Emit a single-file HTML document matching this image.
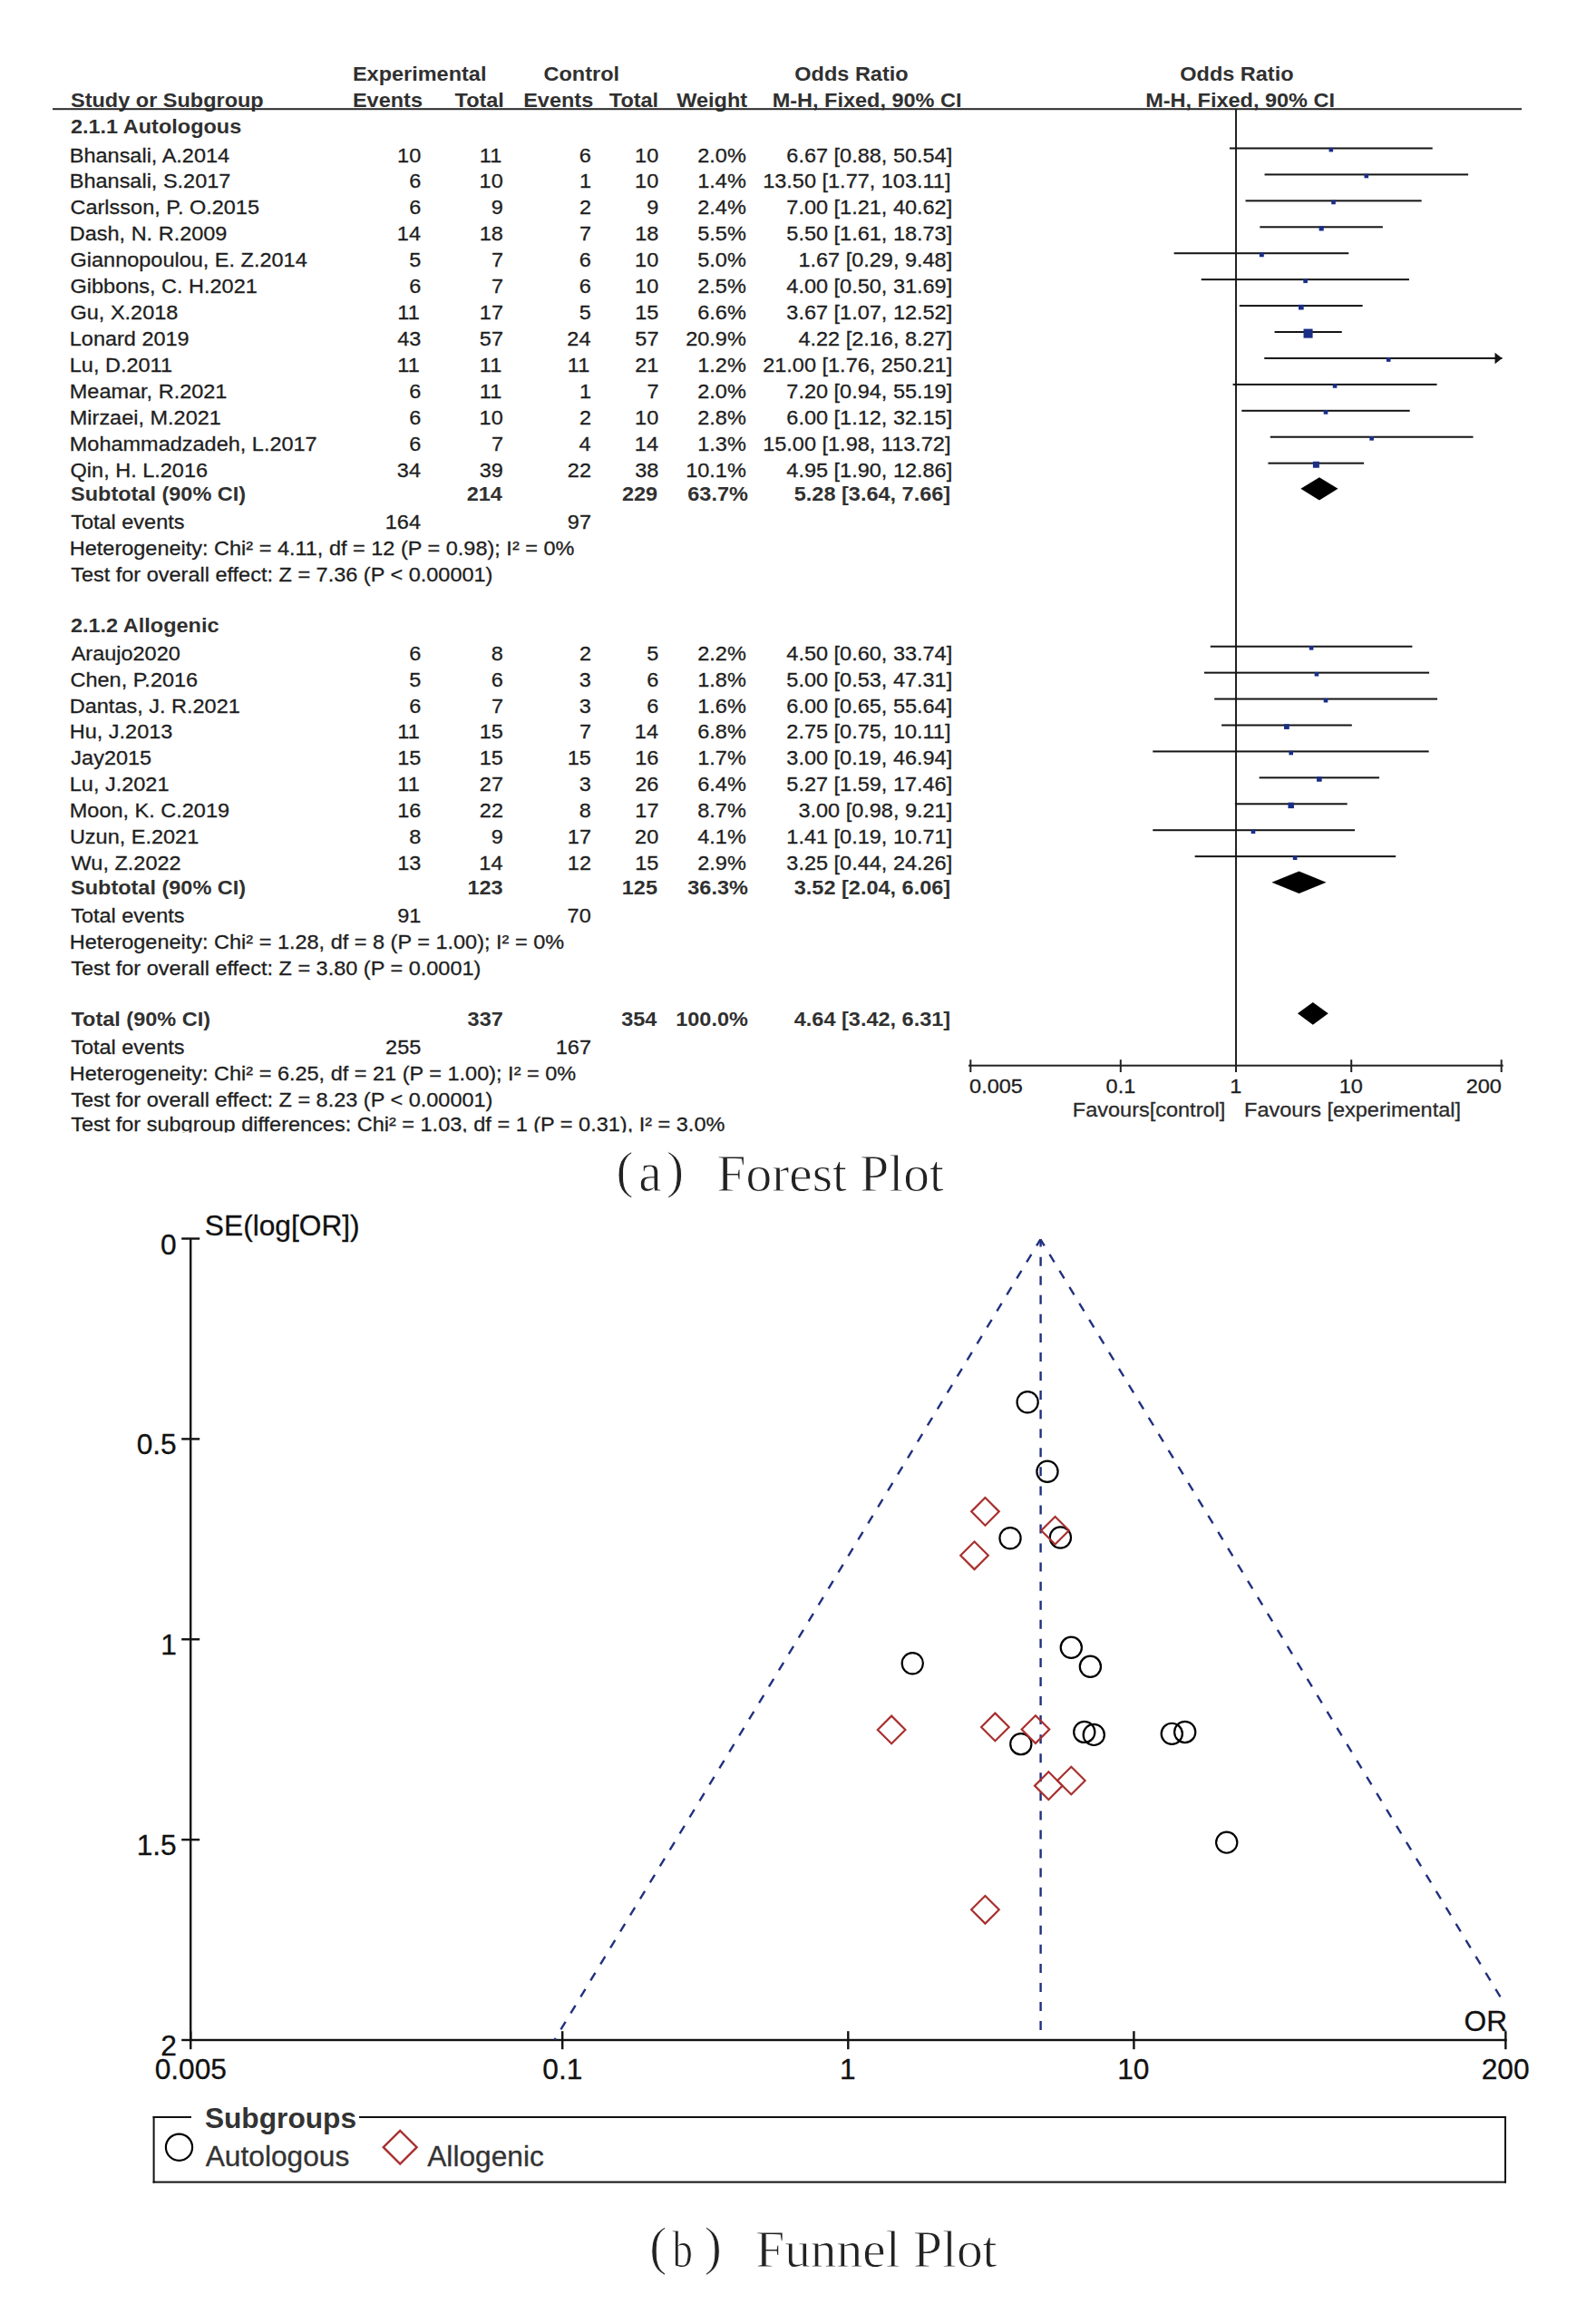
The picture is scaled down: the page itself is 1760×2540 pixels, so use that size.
<!DOCTYPE html>
<html><head><meta charset="utf-8"><title>Forest and Funnel Plot</title>
<style>
html,body{margin:0;padding:0;background:#fff;}
body{width:1760px;height:2540px;overflow:hidden;position:relative;font-family:"Liberation Sans",sans-serif;}
svg{position:absolute;left:0;top:0;display:block;}
</style></head>
<body>
<svg width="1760" height="2540" viewBox="0 0 1760 2540">
<defs><clipPath id="clipA"><rect x="0" y="1225" width="1100" height="23.6"/></clipPath></defs>
<rect x="0" y="0" width="1760" height="2540" fill="#fff"/>
<text transform="matrix(1.0 0 0 0.925 388.93 88.90)" font-family="Liberation Sans" font-size="23.5" font-weight="bold" fill="#303030">Experimental</text>
<text transform="matrix(1.0 0 0 0.925 599.54 88.90)" font-family="Liberation Sans" font-size="23.5" font-weight="bold" fill="#303030">Control</text>
<text transform="matrix(1.0 0 0 0.925 876.34 88.90)" font-family="Liberation Sans" font-size="23.5" font-weight="bold" fill="#303030">Odds Ratio</text>
<text transform="matrix(1.0 0 0 0.925 1301.26 88.90)" font-family="Liberation Sans" font-size="23.5" font-weight="bold" fill="#303030">Odds Ratio</text>
<text transform="matrix(1.0 0 0 0.925 78.02 117.80)" font-family="Liberation Sans" font-size="23.5" font-weight="bold" fill="#303030">Study or Subgroup</text>
<text transform="matrix(1.0 0 0 0.925 388.93 117.80)" font-family="Liberation Sans" font-size="23.5" font-weight="bold" fill="#303030">Events</text>
<text transform="matrix(1.0 0 0 0.925 501.53 117.80)" font-family="Liberation Sans" font-size="23.5" font-weight="bold" fill="#303030">Total</text>
<text transform="matrix(1.0 0 0 0.925 577.18 117.80)" font-family="Liberation Sans" font-size="23.5" font-weight="bold" fill="#303030">Events</text>
<text transform="matrix(1.0 0 0 0.925 671.78 117.80)" font-family="Liberation Sans" font-size="23.5" font-weight="bold" fill="#303030">Total</text>
<text transform="matrix(1.0 0 0 0.925 746.23 117.80)" font-family="Liberation Sans" font-size="23.5" font-weight="bold" fill="#303030">Weight</text>
<text transform="matrix(1.0 0 0 0.925 851.63 117.80)" font-family="Liberation Sans" font-size="23.5" font-weight="bold" fill="#303030">M-H, Fixed, 90% CI</text>
<text transform="matrix(1.0 0 0 0.925 1263.19 117.80)" font-family="Liberation Sans" font-size="23.5" font-weight="bold" fill="#303030">M-H, Fixed, 90% CI</text>
<rect x="58.00" y="119.20" width="1620.00" height="2.00" fill="#2a2a2a"/>
<text transform="matrix(1.0 0 0 0.925 77.89 147.20)" font-family="Liberation Sans" font-size="23.5" font-weight="bold" fill="#303030">2.1.1 Autologous</text>
<text transform="matrix(1.0 0 0 0.925 76.77 178.50)" font-family="Liberation Sans" font-size="23.5" fill="#1e1e1e" stroke="#1e1e1e" stroke-width="0.3">Bhansali, A.2014</text>
<text transform="matrix(1.0 0 0 0.925 438.08 178.50)" font-family="Liberation Sans" font-size="23.5" fill="#1e1e1e" stroke="#1e1e1e" stroke-width="0.3">10</text>
<text transform="matrix(1.0 0 0 0.925 528.81 178.50)" font-family="Liberation Sans" font-size="23.5" fill="#1e1e1e" stroke="#1e1e1e" stroke-width="0.3">11</text>
<text transform="matrix(1.0 0 0 0.925 638.76 178.50)" font-family="Liberation Sans" font-size="23.5" fill="#1e1e1e" stroke="#1e1e1e" stroke-width="0.3">6</text>
<text transform="matrix(1.0 0 0 0.925 700.08 178.50)" font-family="Liberation Sans" font-size="23.5" fill="#1e1e1e" stroke="#1e1e1e" stroke-width="0.3">10</text>
<text transform="matrix(1.0 0 0 0.925 769.27 178.50)" font-family="Liberation Sans" font-size="23.5" fill="#1e1e1e" stroke="#1e1e1e" stroke-width="0.3">2.0%</text>
<text transform="matrix(1.0 0 0 0.925 867.35 178.50)" font-family="Liberation Sans" font-size="23.5" fill="#1e1e1e" stroke="#1e1e1e" stroke-width="0.3">6.67 [0.88, 50.54]</text>
<text transform="matrix(1.0 0 0 0.925 76.77 207.43)" font-family="Liberation Sans" font-size="23.5" fill="#1e1e1e" stroke="#1e1e1e" stroke-width="0.3">Bhansali, S.2017</text>
<text transform="matrix(1.0 0 0 0.925 451.26 207.43)" font-family="Liberation Sans" font-size="23.5" fill="#1e1e1e" stroke="#1e1e1e" stroke-width="0.3">6</text>
<text transform="matrix(1.0 0 0 0.925 528.58 207.43)" font-family="Liberation Sans" font-size="23.5" fill="#1e1e1e" stroke="#1e1e1e" stroke-width="0.3">10</text>
<text transform="matrix(1.0 0 0 0.925 638.88 207.43)" font-family="Liberation Sans" font-size="23.5" fill="#1e1e1e" stroke="#1e1e1e" stroke-width="0.3">1</text>
<text transform="matrix(1.0 0 0 0.925 700.08 207.43)" font-family="Liberation Sans" font-size="23.5" fill="#1e1e1e" stroke="#1e1e1e" stroke-width="0.3">10</text>
<text transform="matrix(1.0 0 0 0.925 769.27 207.43)" font-family="Liberation Sans" font-size="23.5" fill="#1e1e1e" stroke="#1e1e1e" stroke-width="0.3">1.4%</text>
<text transform="matrix(1.0 0 0 0.925 841.21 207.43)" font-family="Liberation Sans" font-size="23.5" fill="#1e1e1e" stroke="#1e1e1e" stroke-width="0.3">13.50 [1.77, 103.11]</text>
<text transform="matrix(1.0 0 0 0.925 77.51 236.36)" font-family="Liberation Sans" font-size="23.5" fill="#1e1e1e" stroke="#1e1e1e" stroke-width="0.3">Carlsson, P. O.2015</text>
<text transform="matrix(1.0 0 0 0.925 451.26 236.36)" font-family="Liberation Sans" font-size="23.5" fill="#1e1e1e" stroke="#1e1e1e" stroke-width="0.3">6</text>
<text transform="matrix(1.0 0 0 0.925 541.84 236.36)" font-family="Liberation Sans" font-size="23.5" fill="#1e1e1e" stroke="#1e1e1e" stroke-width="0.3">9</text>
<text transform="matrix(1.0 0 0 0.925 638.91 236.36)" font-family="Liberation Sans" font-size="23.5" fill="#1e1e1e" stroke="#1e1e1e" stroke-width="0.3">2</text>
<text transform="matrix(1.0 0 0 0.925 713.34 236.36)" font-family="Liberation Sans" font-size="23.5" fill="#1e1e1e" stroke="#1e1e1e" stroke-width="0.3">9</text>
<text transform="matrix(1.0 0 0 0.925 769.27 236.36)" font-family="Liberation Sans" font-size="23.5" fill="#1e1e1e" stroke="#1e1e1e" stroke-width="0.3">2.4%</text>
<text transform="matrix(1.0 0 0 0.925 867.35 236.36)" font-family="Liberation Sans" font-size="23.5" fill="#1e1e1e" stroke="#1e1e1e" stroke-width="0.3">7.00 [1.21, 40.62]</text>
<text transform="matrix(1.0 0 0 0.925 76.77 265.29)" font-family="Liberation Sans" font-size="23.5" fill="#1e1e1e" stroke="#1e1e1e" stroke-width="0.3">Dash, N. R.2009</text>
<text transform="matrix(1.0 0 0 0.925 437.85 265.29)" font-family="Liberation Sans" font-size="23.5" fill="#1e1e1e" stroke="#1e1e1e" stroke-width="0.3">14</text>
<text transform="matrix(1.0 0 0 0.925 528.68 265.29)" font-family="Liberation Sans" font-size="23.5" fill="#1e1e1e" stroke="#1e1e1e" stroke-width="0.3">18</text>
<text transform="matrix(1.0 0 0 0.925 638.91 265.29)" font-family="Liberation Sans" font-size="23.5" fill="#1e1e1e" stroke="#1e1e1e" stroke-width="0.3">7</text>
<text transform="matrix(1.0 0 0 0.925 700.18 265.29)" font-family="Liberation Sans" font-size="23.5" fill="#1e1e1e" stroke="#1e1e1e" stroke-width="0.3">18</text>
<text transform="matrix(1.0 0 0 0.925 769.27 265.29)" font-family="Liberation Sans" font-size="23.5" fill="#1e1e1e" stroke="#1e1e1e" stroke-width="0.3">5.5%</text>
<text transform="matrix(1.0 0 0 0.925 867.35 265.29)" font-family="Liberation Sans" font-size="23.5" fill="#1e1e1e" stroke="#1e1e1e" stroke-width="0.3">5.50 [1.61, 18.73]</text>
<text transform="matrix(1.0 0 0 0.925 77.52 294.22)" font-family="Liberation Sans" font-size="23.5" fill="#1e1e1e" stroke="#1e1e1e" stroke-width="0.3">Giannopoulou, E. Z.2014</text>
<text transform="matrix(1.0 0 0 0.925 451.22 294.22)" font-family="Liberation Sans" font-size="23.5" fill="#1e1e1e" stroke="#1e1e1e" stroke-width="0.3">5</text>
<text transform="matrix(1.0 0 0 0.925 541.91 294.22)" font-family="Liberation Sans" font-size="23.5" fill="#1e1e1e" stroke="#1e1e1e" stroke-width="0.3">7</text>
<text transform="matrix(1.0 0 0 0.925 638.76 294.22)" font-family="Liberation Sans" font-size="23.5" fill="#1e1e1e" stroke="#1e1e1e" stroke-width="0.3">6</text>
<text transform="matrix(1.0 0 0 0.925 700.08 294.22)" font-family="Liberation Sans" font-size="23.5" fill="#1e1e1e" stroke="#1e1e1e" stroke-width="0.3">10</text>
<text transform="matrix(1.0 0 0 0.925 769.27 294.22)" font-family="Liberation Sans" font-size="23.5" fill="#1e1e1e" stroke="#1e1e1e" stroke-width="0.3">5.0%</text>
<text transform="matrix(1.0 0 0 0.925 880.42 294.22)" font-family="Liberation Sans" font-size="23.5" fill="#1e1e1e" stroke="#1e1e1e" stroke-width="0.3">1.67 [0.29, 9.48]</text>
<text transform="matrix(1.0 0 0 0.925 77.52 323.15)" font-family="Liberation Sans" font-size="23.5" fill="#1e1e1e" stroke="#1e1e1e" stroke-width="0.3">Gibbons, C. H.2021</text>
<text transform="matrix(1.0 0 0 0.925 451.26 323.15)" font-family="Liberation Sans" font-size="23.5" fill="#1e1e1e" stroke="#1e1e1e" stroke-width="0.3">6</text>
<text transform="matrix(1.0 0 0 0.925 541.91 323.15)" font-family="Liberation Sans" font-size="23.5" fill="#1e1e1e" stroke="#1e1e1e" stroke-width="0.3">7</text>
<text transform="matrix(1.0 0 0 0.925 638.76 323.15)" font-family="Liberation Sans" font-size="23.5" fill="#1e1e1e" stroke="#1e1e1e" stroke-width="0.3">6</text>
<text transform="matrix(1.0 0 0 0.925 700.08 323.15)" font-family="Liberation Sans" font-size="23.5" fill="#1e1e1e" stroke="#1e1e1e" stroke-width="0.3">10</text>
<text transform="matrix(1.0 0 0 0.925 769.27 323.15)" font-family="Liberation Sans" font-size="23.5" fill="#1e1e1e" stroke="#1e1e1e" stroke-width="0.3">2.5%</text>
<text transform="matrix(1.0 0 0 0.925 867.35 323.15)" font-family="Liberation Sans" font-size="23.5" fill="#1e1e1e" stroke="#1e1e1e" stroke-width="0.3">4.00 [0.50, 31.69]</text>
<text transform="matrix(1.0 0 0 0.925 77.52 352.08)" font-family="Liberation Sans" font-size="23.5" fill="#1e1e1e" stroke="#1e1e1e" stroke-width="0.3">Gu, X.2018</text>
<text transform="matrix(1.0 0 0 0.925 438.31 352.08)" font-family="Liberation Sans" font-size="23.5" fill="#1e1e1e" stroke="#1e1e1e" stroke-width="0.3">11</text>
<text transform="matrix(1.0 0 0 0.925 528.84 352.08)" font-family="Liberation Sans" font-size="23.5" fill="#1e1e1e" stroke="#1e1e1e" stroke-width="0.3">17</text>
<text transform="matrix(1.0 0 0 0.925 638.72 352.08)" font-family="Liberation Sans" font-size="23.5" fill="#1e1e1e" stroke="#1e1e1e" stroke-width="0.3">5</text>
<text transform="matrix(1.0 0 0 0.925 700.15 352.08)" font-family="Liberation Sans" font-size="23.5" fill="#1e1e1e" stroke="#1e1e1e" stroke-width="0.3">15</text>
<text transform="matrix(1.0 0 0 0.925 769.27 352.08)" font-family="Liberation Sans" font-size="23.5" fill="#1e1e1e" stroke="#1e1e1e" stroke-width="0.3">6.6%</text>
<text transform="matrix(1.0 0 0 0.925 867.35 352.08)" font-family="Liberation Sans" font-size="23.5" fill="#1e1e1e" stroke="#1e1e1e" stroke-width="0.3">3.67 [1.07, 12.52]</text>
<text transform="matrix(1.0 0 0 0.925 76.77 381.01)" font-family="Liberation Sans" font-size="23.5" fill="#1e1e1e" stroke="#1e1e1e" stroke-width="0.3">Lonard 2019</text>
<text transform="matrix(1.0 0 0 0.925 438.19 381.01)" font-family="Liberation Sans" font-size="23.5" fill="#1e1e1e" stroke="#1e1e1e" stroke-width="0.3">43</text>
<text transform="matrix(1.0 0 0 0.925 528.84 381.01)" font-family="Liberation Sans" font-size="23.5" fill="#1e1e1e" stroke="#1e1e1e" stroke-width="0.3">57</text>
<text transform="matrix(1.0 0 0 0.925 625.35 381.01)" font-family="Liberation Sans" font-size="23.5" fill="#1e1e1e" stroke="#1e1e1e" stroke-width="0.3">24</text>
<text transform="matrix(1.0 0 0 0.925 700.34 381.01)" font-family="Liberation Sans" font-size="23.5" fill="#1e1e1e" stroke="#1e1e1e" stroke-width="0.3">57</text>
<text transform="matrix(1.0 0 0 0.925 756.20 381.01)" font-family="Liberation Sans" font-size="23.5" fill="#1e1e1e" stroke="#1e1e1e" stroke-width="0.3">20.9%</text>
<text transform="matrix(1.0 0 0 0.925 880.42 381.01)" font-family="Liberation Sans" font-size="23.5" fill="#1e1e1e" stroke="#1e1e1e" stroke-width="0.3">4.22 [2.16, 8.27]</text>
<text transform="matrix(1.0 0 0 0.925 76.77 409.94)" font-family="Liberation Sans" font-size="23.5" fill="#1e1e1e" stroke="#1e1e1e" stroke-width="0.3">Lu, D.2011</text>
<text transform="matrix(1.0 0 0 0.925 438.31 409.94)" font-family="Liberation Sans" font-size="23.5" fill="#1e1e1e" stroke="#1e1e1e" stroke-width="0.3">11</text>
<text transform="matrix(1.0 0 0 0.925 528.81 409.94)" font-family="Liberation Sans" font-size="23.5" fill="#1e1e1e" stroke="#1e1e1e" stroke-width="0.3">11</text>
<text transform="matrix(1.0 0 0 0.925 625.81 409.94)" font-family="Liberation Sans" font-size="23.5" fill="#1e1e1e" stroke="#1e1e1e" stroke-width="0.3">11</text>
<text transform="matrix(1.0 0 0 0.925 700.31 409.94)" font-family="Liberation Sans" font-size="23.5" fill="#1e1e1e" stroke="#1e1e1e" stroke-width="0.3">21</text>
<text transform="matrix(1.0 0 0 0.925 769.27 409.94)" font-family="Liberation Sans" font-size="23.5" fill="#1e1e1e" stroke="#1e1e1e" stroke-width="0.3">1.2%</text>
<text transform="matrix(1.0 0 0 0.925 841.21 409.94)" font-family="Liberation Sans" font-size="23.5" fill="#1e1e1e" stroke="#1e1e1e" stroke-width="0.3">21.00 [1.76, 250.21]</text>
<text transform="matrix(1.0 0 0 0.925 76.77 438.87)" font-family="Liberation Sans" font-size="23.5" fill="#1e1e1e" stroke="#1e1e1e" stroke-width="0.3">Meamar, R.2021</text>
<text transform="matrix(1.0 0 0 0.925 451.26 438.87)" font-family="Liberation Sans" font-size="23.5" fill="#1e1e1e" stroke="#1e1e1e" stroke-width="0.3">6</text>
<text transform="matrix(1.0 0 0 0.925 528.81 438.87)" font-family="Liberation Sans" font-size="23.5" fill="#1e1e1e" stroke="#1e1e1e" stroke-width="0.3">11</text>
<text transform="matrix(1.0 0 0 0.925 638.88 438.87)" font-family="Liberation Sans" font-size="23.5" fill="#1e1e1e" stroke="#1e1e1e" stroke-width="0.3">1</text>
<text transform="matrix(1.0 0 0 0.925 713.41 438.87)" font-family="Liberation Sans" font-size="23.5" fill="#1e1e1e" stroke="#1e1e1e" stroke-width="0.3">7</text>
<text transform="matrix(1.0 0 0 0.925 769.27 438.87)" font-family="Liberation Sans" font-size="23.5" fill="#1e1e1e" stroke="#1e1e1e" stroke-width="0.3">2.0%</text>
<text transform="matrix(1.0 0 0 0.925 867.35 438.87)" font-family="Liberation Sans" font-size="23.5" fill="#1e1e1e" stroke="#1e1e1e" stroke-width="0.3">7.20 [0.94, 55.19]</text>
<text transform="matrix(1.0 0 0 0.925 76.77 467.80)" font-family="Liberation Sans" font-size="23.5" fill="#1e1e1e" stroke="#1e1e1e" stroke-width="0.3">Mirzaei, M.2021</text>
<text transform="matrix(1.0 0 0 0.925 451.26 467.80)" font-family="Liberation Sans" font-size="23.5" fill="#1e1e1e" stroke="#1e1e1e" stroke-width="0.3">6</text>
<text transform="matrix(1.0 0 0 0.925 528.58 467.80)" font-family="Liberation Sans" font-size="23.5" fill="#1e1e1e" stroke="#1e1e1e" stroke-width="0.3">10</text>
<text transform="matrix(1.0 0 0 0.925 638.91 467.80)" font-family="Liberation Sans" font-size="23.5" fill="#1e1e1e" stroke="#1e1e1e" stroke-width="0.3">2</text>
<text transform="matrix(1.0 0 0 0.925 700.08 467.80)" font-family="Liberation Sans" font-size="23.5" fill="#1e1e1e" stroke="#1e1e1e" stroke-width="0.3">10</text>
<text transform="matrix(1.0 0 0 0.925 769.27 467.80)" font-family="Liberation Sans" font-size="23.5" fill="#1e1e1e" stroke="#1e1e1e" stroke-width="0.3">2.8%</text>
<text transform="matrix(1.0 0 0 0.925 867.35 467.80)" font-family="Liberation Sans" font-size="23.5" fill="#1e1e1e" stroke="#1e1e1e" stroke-width="0.3">6.00 [1.12, 32.15]</text>
<text transform="matrix(1.0 0 0 0.925 76.77 496.73)" font-family="Liberation Sans" font-size="23.5" fill="#1e1e1e" stroke="#1e1e1e" stroke-width="0.3">Mohammadzadeh, L.2017</text>
<text transform="matrix(1.0 0 0 0.925 451.26 496.73)" font-family="Liberation Sans" font-size="23.5" fill="#1e1e1e" stroke="#1e1e1e" stroke-width="0.3">6</text>
<text transform="matrix(1.0 0 0 0.925 541.91 496.73)" font-family="Liberation Sans" font-size="23.5" fill="#1e1e1e" stroke="#1e1e1e" stroke-width="0.3">7</text>
<text transform="matrix(1.0 0 0 0.925 638.42 496.73)" font-family="Liberation Sans" font-size="23.5" fill="#1e1e1e" stroke="#1e1e1e" stroke-width="0.3">4</text>
<text transform="matrix(1.0 0 0 0.925 699.85 496.73)" font-family="Liberation Sans" font-size="23.5" fill="#1e1e1e" stroke="#1e1e1e" stroke-width="0.3">14</text>
<text transform="matrix(1.0 0 0 0.925 769.27 496.73)" font-family="Liberation Sans" font-size="23.5" fill="#1e1e1e" stroke="#1e1e1e" stroke-width="0.3">1.3%</text>
<text transform="matrix(1.0 0 0 0.925 841.21 496.73)" font-family="Liberation Sans" font-size="23.5" fill="#1e1e1e" stroke="#1e1e1e" stroke-width="0.3">15.00 [1.98, 113.72]</text>
<text transform="matrix(1.0 0 0 0.925 77.59 525.66)" font-family="Liberation Sans" font-size="23.5" fill="#1e1e1e" stroke="#1e1e1e" stroke-width="0.3">Qin, H. L.2016</text>
<text transform="matrix(1.0 0 0 0.925 437.85 525.66)" font-family="Liberation Sans" font-size="23.5" fill="#1e1e1e" stroke="#1e1e1e" stroke-width="0.3">34</text>
<text transform="matrix(1.0 0 0 0.925 528.77 525.66)" font-family="Liberation Sans" font-size="23.5" fill="#1e1e1e" stroke="#1e1e1e" stroke-width="0.3">39</text>
<text transform="matrix(1.0 0 0 0.925 625.84 525.66)" font-family="Liberation Sans" font-size="23.5" fill="#1e1e1e" stroke="#1e1e1e" stroke-width="0.3">22</text>
<text transform="matrix(1.0 0 0 0.925 700.18 525.66)" font-family="Liberation Sans" font-size="23.5" fill="#1e1e1e" stroke="#1e1e1e" stroke-width="0.3">38</text>
<text transform="matrix(1.0 0 0 0.925 756.20 525.66)" font-family="Liberation Sans" font-size="23.5" fill="#1e1e1e" stroke="#1e1e1e" stroke-width="0.3">10.1%</text>
<text transform="matrix(1.0 0 0 0.925 867.35 525.66)" font-family="Liberation Sans" font-size="23.5" fill="#1e1e1e" stroke="#1e1e1e" stroke-width="0.3">4.95 [1.90, 12.86]</text>
<text transform="matrix(1.0 0 0 0.925 78.02 551.80)" font-family="Liberation Sans" font-size="23.5" font-weight="bold" fill="#303030">Subtotal (90% CI)</text>
<text transform="matrix(1.0 0 0 0.925 514.72 551.80)" font-family="Liberation Sans" font-size="23.5" font-weight="bold" fill="#303030">214</text>
<text transform="matrix(1.0 0 0 0.925 685.96 551.80)" font-family="Liberation Sans" font-size="23.5" font-weight="bold" fill="#303030">229</text>
<text transform="matrix(1.0 0 0 0.925 758.29 551.80)" font-family="Liberation Sans" font-size="23.5" font-weight="bold" fill="#303030">63.7%</text>
<text transform="matrix(1.0 0 0 0.925 875.77 551.80)" font-family="Liberation Sans" font-size="23.5" font-weight="bold" fill="#303030">5.28 [3.64, 7.66]</text>
<text transform="matrix(1.0 0 0 0.925 78.17 583.00)" font-family="Liberation Sans" font-size="23.5" fill="#1e1e1e" stroke="#1e1e1e" stroke-width="0.3">Total events</text>
<text transform="matrix(1.0 0 0 0.925 424.78 583.00)" font-family="Liberation Sans" font-size="23.5" fill="#1e1e1e" stroke="#1e1e1e" stroke-width="0.3">164</text>
<text transform="matrix(1.0 0 0 0.925 625.84 583.00)" font-family="Liberation Sans" font-size="23.5" fill="#1e1e1e" stroke="#1e1e1e" stroke-width="0.3">97</text>
<text transform="matrix(1.0 0 0 0.925 76.77 611.80)" font-family="Liberation Sans" font-size="23.5" fill="#1e1e1e" stroke="#1e1e1e" stroke-width="0.3">Heterogeneity: Chi² = 4.11, df = 12 (P = 0.98); I² = 0%</text>
<text transform="matrix(1.0 0 0 0.925 78.17 641.00)" font-family="Liberation Sans" font-size="23.5" fill="#1e1e1e" stroke="#1e1e1e" stroke-width="0.3">Test for overall effect: Z = 7.36 (P &lt; 0.00001)</text>
<text transform="matrix(1.0 0 0 0.925 77.89 696.50)" font-family="Liberation Sans" font-size="23.5" font-weight="bold" fill="#303030">2.1.2 Allogenic</text>
<text transform="matrix(1.0 0 0 0.925 78.65 727.70)" font-family="Liberation Sans" font-size="23.5" fill="#1e1e1e" stroke="#1e1e1e" stroke-width="0.3">Araujo2020</text>
<text transform="matrix(1.0 0 0 0.925 451.26 727.70)" font-family="Liberation Sans" font-size="23.5" fill="#1e1e1e" stroke="#1e1e1e" stroke-width="0.3">6</text>
<text transform="matrix(1.0 0 0 0.925 541.75 727.70)" font-family="Liberation Sans" font-size="23.5" fill="#1e1e1e" stroke="#1e1e1e" stroke-width="0.3">8</text>
<text transform="matrix(1.0 0 0 0.925 638.91 727.70)" font-family="Liberation Sans" font-size="23.5" fill="#1e1e1e" stroke="#1e1e1e" stroke-width="0.3">2</text>
<text transform="matrix(1.0 0 0 0.925 713.22 727.70)" font-family="Liberation Sans" font-size="23.5" fill="#1e1e1e" stroke="#1e1e1e" stroke-width="0.3">5</text>
<text transform="matrix(1.0 0 0 0.925 769.27 727.70)" font-family="Liberation Sans" font-size="23.5" fill="#1e1e1e" stroke="#1e1e1e" stroke-width="0.3">2.2%</text>
<text transform="matrix(1.0 0 0 0.925 867.35 727.70)" font-family="Liberation Sans" font-size="23.5" fill="#1e1e1e" stroke="#1e1e1e" stroke-width="0.3">4.50 [0.60, 33.74]</text>
<text transform="matrix(1.0 0 0 0.925 77.51 756.63)" font-family="Liberation Sans" font-size="23.5" fill="#1e1e1e" stroke="#1e1e1e" stroke-width="0.3">Chen, P.2016</text>
<text transform="matrix(1.0 0 0 0.925 451.22 756.63)" font-family="Liberation Sans" font-size="23.5" fill="#1e1e1e" stroke="#1e1e1e" stroke-width="0.3">5</text>
<text transform="matrix(1.0 0 0 0.925 541.76 756.63)" font-family="Liberation Sans" font-size="23.5" fill="#1e1e1e" stroke="#1e1e1e" stroke-width="0.3">6</text>
<text transform="matrix(1.0 0 0 0.925 638.76 756.63)" font-family="Liberation Sans" font-size="23.5" fill="#1e1e1e" stroke="#1e1e1e" stroke-width="0.3">3</text>
<text transform="matrix(1.0 0 0 0.925 713.26 756.63)" font-family="Liberation Sans" font-size="23.5" fill="#1e1e1e" stroke="#1e1e1e" stroke-width="0.3">6</text>
<text transform="matrix(1.0 0 0 0.925 769.27 756.63)" font-family="Liberation Sans" font-size="23.5" fill="#1e1e1e" stroke="#1e1e1e" stroke-width="0.3">1.8%</text>
<text transform="matrix(1.0 0 0 0.925 867.35 756.63)" font-family="Liberation Sans" font-size="23.5" fill="#1e1e1e" stroke="#1e1e1e" stroke-width="0.3">5.00 [0.53, 47.31]</text>
<text transform="matrix(1.0 0 0 0.925 76.77 785.56)" font-family="Liberation Sans" font-size="23.5" fill="#1e1e1e" stroke="#1e1e1e" stroke-width="0.3">Dantas, J. R.2021</text>
<text transform="matrix(1.0 0 0 0.925 451.26 785.56)" font-family="Liberation Sans" font-size="23.5" fill="#1e1e1e" stroke="#1e1e1e" stroke-width="0.3">6</text>
<text transform="matrix(1.0 0 0 0.925 541.91 785.56)" font-family="Liberation Sans" font-size="23.5" fill="#1e1e1e" stroke="#1e1e1e" stroke-width="0.3">7</text>
<text transform="matrix(1.0 0 0 0.925 638.76 785.56)" font-family="Liberation Sans" font-size="23.5" fill="#1e1e1e" stroke="#1e1e1e" stroke-width="0.3">3</text>
<text transform="matrix(1.0 0 0 0.925 713.26 785.56)" font-family="Liberation Sans" font-size="23.5" fill="#1e1e1e" stroke="#1e1e1e" stroke-width="0.3">6</text>
<text transform="matrix(1.0 0 0 0.925 769.27 785.56)" font-family="Liberation Sans" font-size="23.5" fill="#1e1e1e" stroke="#1e1e1e" stroke-width="0.3">1.6%</text>
<text transform="matrix(1.0 0 0 0.925 867.35 785.56)" font-family="Liberation Sans" font-size="23.5" fill="#1e1e1e" stroke="#1e1e1e" stroke-width="0.3">6.00 [0.65, 55.64]</text>
<text transform="matrix(1.0 0 0 0.925 76.77 814.49)" font-family="Liberation Sans" font-size="23.5" fill="#1e1e1e" stroke="#1e1e1e" stroke-width="0.3">Hu, J.2013</text>
<text transform="matrix(1.0 0 0 0.925 438.31 814.49)" font-family="Liberation Sans" font-size="23.5" fill="#1e1e1e" stroke="#1e1e1e" stroke-width="0.3">11</text>
<text transform="matrix(1.0 0 0 0.925 528.65 814.49)" font-family="Liberation Sans" font-size="23.5" fill="#1e1e1e" stroke="#1e1e1e" stroke-width="0.3">15</text>
<text transform="matrix(1.0 0 0 0.925 638.91 814.49)" font-family="Liberation Sans" font-size="23.5" fill="#1e1e1e" stroke="#1e1e1e" stroke-width="0.3">7</text>
<text transform="matrix(1.0 0 0 0.925 699.85 814.49)" font-family="Liberation Sans" font-size="23.5" fill="#1e1e1e" stroke="#1e1e1e" stroke-width="0.3">14</text>
<text transform="matrix(1.0 0 0 0.925 769.27 814.49)" font-family="Liberation Sans" font-size="23.5" fill="#1e1e1e" stroke="#1e1e1e" stroke-width="0.3">6.8%</text>
<text transform="matrix(1.0 0 0 0.925 867.35 814.49)" font-family="Liberation Sans" font-size="23.5" fill="#1e1e1e" stroke="#1e1e1e" stroke-width="0.3">2.75 [0.75, 10.11]</text>
<text transform="matrix(1.0 0 0 0.925 78.33 843.42)" font-family="Liberation Sans" font-size="23.5" fill="#1e1e1e" stroke="#1e1e1e" stroke-width="0.3">Jay2015</text>
<text transform="matrix(1.0 0 0 0.925 438.15 843.42)" font-family="Liberation Sans" font-size="23.5" fill="#1e1e1e" stroke="#1e1e1e" stroke-width="0.3">15</text>
<text transform="matrix(1.0 0 0 0.925 528.65 843.42)" font-family="Liberation Sans" font-size="23.5" fill="#1e1e1e" stroke="#1e1e1e" stroke-width="0.3">15</text>
<text transform="matrix(1.0 0 0 0.925 625.65 843.42)" font-family="Liberation Sans" font-size="23.5" fill="#1e1e1e" stroke="#1e1e1e" stroke-width="0.3">15</text>
<text transform="matrix(1.0 0 0 0.925 700.19 843.42)" font-family="Liberation Sans" font-size="23.5" fill="#1e1e1e" stroke="#1e1e1e" stroke-width="0.3">16</text>
<text transform="matrix(1.0 0 0 0.925 769.27 843.42)" font-family="Liberation Sans" font-size="23.5" fill="#1e1e1e" stroke="#1e1e1e" stroke-width="0.3">1.7%</text>
<text transform="matrix(1.0 0 0 0.925 867.35 843.42)" font-family="Liberation Sans" font-size="23.5" fill="#1e1e1e" stroke="#1e1e1e" stroke-width="0.3">3.00 [0.19, 46.94]</text>
<text transform="matrix(1.0 0 0 0.925 76.77 872.35)" font-family="Liberation Sans" font-size="23.5" fill="#1e1e1e" stroke="#1e1e1e" stroke-width="0.3">Lu, J.2021</text>
<text transform="matrix(1.0 0 0 0.925 438.31 872.35)" font-family="Liberation Sans" font-size="23.5" fill="#1e1e1e" stroke="#1e1e1e" stroke-width="0.3">11</text>
<text transform="matrix(1.0 0 0 0.925 528.84 872.35)" font-family="Liberation Sans" font-size="23.5" fill="#1e1e1e" stroke="#1e1e1e" stroke-width="0.3">27</text>
<text transform="matrix(1.0 0 0 0.925 638.76 872.35)" font-family="Liberation Sans" font-size="23.5" fill="#1e1e1e" stroke="#1e1e1e" stroke-width="0.3">3</text>
<text transform="matrix(1.0 0 0 0.925 700.19 872.35)" font-family="Liberation Sans" font-size="23.5" fill="#1e1e1e" stroke="#1e1e1e" stroke-width="0.3">26</text>
<text transform="matrix(1.0 0 0 0.925 769.27 872.35)" font-family="Liberation Sans" font-size="23.5" fill="#1e1e1e" stroke="#1e1e1e" stroke-width="0.3">6.4%</text>
<text transform="matrix(1.0 0 0 0.925 867.35 872.35)" font-family="Liberation Sans" font-size="23.5" fill="#1e1e1e" stroke="#1e1e1e" stroke-width="0.3">5.27 [1.59, 17.46]</text>
<text transform="matrix(1.0 0 0 0.925 76.77 901.28)" font-family="Liberation Sans" font-size="23.5" fill="#1e1e1e" stroke="#1e1e1e" stroke-width="0.3">Moon, K. C.2019</text>
<text transform="matrix(1.0 0 0 0.925 438.19 901.28)" font-family="Liberation Sans" font-size="23.5" fill="#1e1e1e" stroke="#1e1e1e" stroke-width="0.3">16</text>
<text transform="matrix(1.0 0 0 0.925 528.84 901.28)" font-family="Liberation Sans" font-size="23.5" fill="#1e1e1e" stroke="#1e1e1e" stroke-width="0.3">22</text>
<text transform="matrix(1.0 0 0 0.925 638.75 901.28)" font-family="Liberation Sans" font-size="23.5" fill="#1e1e1e" stroke="#1e1e1e" stroke-width="0.3">8</text>
<text transform="matrix(1.0 0 0 0.925 700.34 901.28)" font-family="Liberation Sans" font-size="23.5" fill="#1e1e1e" stroke="#1e1e1e" stroke-width="0.3">17</text>
<text transform="matrix(1.0 0 0 0.925 769.27 901.28)" font-family="Liberation Sans" font-size="23.5" fill="#1e1e1e" stroke="#1e1e1e" stroke-width="0.3">8.7%</text>
<text transform="matrix(1.0 0 0 0.925 880.42 901.28)" font-family="Liberation Sans" font-size="23.5" fill="#1e1e1e" stroke="#1e1e1e" stroke-width="0.3">3.00 [0.98, 9.21]</text>
<text transform="matrix(1.0 0 0 0.925 76.89 930.21)" font-family="Liberation Sans" font-size="23.5" fill="#1e1e1e" stroke="#1e1e1e" stroke-width="0.3">Uzun, E.2021</text>
<text transform="matrix(1.0 0 0 0.925 451.25 930.21)" font-family="Liberation Sans" font-size="23.5" fill="#1e1e1e" stroke="#1e1e1e" stroke-width="0.3">8</text>
<text transform="matrix(1.0 0 0 0.925 541.84 930.21)" font-family="Liberation Sans" font-size="23.5" fill="#1e1e1e" stroke="#1e1e1e" stroke-width="0.3">9</text>
<text transform="matrix(1.0 0 0 0.925 625.84 930.21)" font-family="Liberation Sans" font-size="23.5" fill="#1e1e1e" stroke="#1e1e1e" stroke-width="0.3">17</text>
<text transform="matrix(1.0 0 0 0.925 700.08 930.21)" font-family="Liberation Sans" font-size="23.5" fill="#1e1e1e" stroke="#1e1e1e" stroke-width="0.3">20</text>
<text transform="matrix(1.0 0 0 0.925 769.27 930.21)" font-family="Liberation Sans" font-size="23.5" fill="#1e1e1e" stroke="#1e1e1e" stroke-width="0.3">4.1%</text>
<text transform="matrix(1.0 0 0 0.925 867.35 930.21)" font-family="Liberation Sans" font-size="23.5" fill="#1e1e1e" stroke="#1e1e1e" stroke-width="0.3">1.41 [0.19, 10.71]</text>
<text transform="matrix(1.0 0 0 0.925 78.60 959.14)" font-family="Liberation Sans" font-size="23.5" fill="#1e1e1e" stroke="#1e1e1e" stroke-width="0.3">Wu, Z.2022</text>
<text transform="matrix(1.0 0 0 0.925 438.19 959.14)" font-family="Liberation Sans" font-size="23.5" fill="#1e1e1e" stroke="#1e1e1e" stroke-width="0.3">13</text>
<text transform="matrix(1.0 0 0 0.925 528.35 959.14)" font-family="Liberation Sans" font-size="23.5" fill="#1e1e1e" stroke="#1e1e1e" stroke-width="0.3">14</text>
<text transform="matrix(1.0 0 0 0.925 625.84 959.14)" font-family="Liberation Sans" font-size="23.5" fill="#1e1e1e" stroke="#1e1e1e" stroke-width="0.3">12</text>
<text transform="matrix(1.0 0 0 0.925 700.15 959.14)" font-family="Liberation Sans" font-size="23.5" fill="#1e1e1e" stroke="#1e1e1e" stroke-width="0.3">15</text>
<text transform="matrix(1.0 0 0 0.925 769.27 959.14)" font-family="Liberation Sans" font-size="23.5" fill="#1e1e1e" stroke="#1e1e1e" stroke-width="0.3">2.9%</text>
<text transform="matrix(1.0 0 0 0.925 867.35 959.14)" font-family="Liberation Sans" font-size="23.5" fill="#1e1e1e" stroke="#1e1e1e" stroke-width="0.3">3.25 [0.44, 24.26]</text>
<text transform="matrix(1.0 0 0 0.925 78.02 985.50)" font-family="Liberation Sans" font-size="23.5" font-weight="bold" fill="#303030">Subtotal (90% CI)</text>
<text transform="matrix(1.0 0 0 0.925 515.44 985.50)" font-family="Liberation Sans" font-size="23.5" font-weight="bold" fill="#303030">123</text>
<text transform="matrix(1.0 0 0 0.925 685.75 985.50)" font-family="Liberation Sans" font-size="23.5" font-weight="bold" fill="#303030">125</text>
<text transform="matrix(1.0 0 0 0.925 758.29 985.50)" font-family="Liberation Sans" font-size="23.5" font-weight="bold" fill="#303030">36.3%</text>
<text transform="matrix(1.0 0 0 0.925 875.77 985.50)" font-family="Liberation Sans" font-size="23.5" font-weight="bold" fill="#303030">3.52 [2.04, 6.06]</text>
<text transform="matrix(1.0 0 0 0.925 78.17 1017.30)" font-family="Liberation Sans" font-size="23.5" fill="#1e1e1e" stroke="#1e1e1e" stroke-width="0.3">Total events</text>
<text transform="matrix(1.0 0 0 0.925 438.31 1017.30)" font-family="Liberation Sans" font-size="23.5" fill="#1e1e1e" stroke="#1e1e1e" stroke-width="0.3">91</text>
<text transform="matrix(1.0 0 0 0.925 625.58 1017.30)" font-family="Liberation Sans" font-size="23.5" fill="#1e1e1e" stroke="#1e1e1e" stroke-width="0.3">70</text>
<text transform="matrix(1.0 0 0 0.925 76.77 1046.30)" font-family="Liberation Sans" font-size="23.5" fill="#1e1e1e" stroke="#1e1e1e" stroke-width="0.3">Heterogeneity: Chi² = 1.28, df = 8 (P = 1.00); I² = 0%</text>
<text transform="matrix(1.0 0 0 0.925 78.17 1075.00)" font-family="Liberation Sans" font-size="23.5" fill="#1e1e1e" stroke="#1e1e1e" stroke-width="0.3">Test for overall effect: Z = 3.80 (P = 0.0001)</text>
<text transform="matrix(1.0 0 0 0.925 78.44 1130.50)" font-family="Liberation Sans" font-size="23.5" font-weight="bold" fill="#303030">Total (90% CI)</text>
<text transform="matrix(1.0 0 0 0.925 515.62 1130.50)" font-family="Liberation Sans" font-size="23.5" font-weight="bold" fill="#303030">337</text>
<text transform="matrix(1.0 0 0 0.925 685.22 1130.50)" font-family="Liberation Sans" font-size="23.5" font-weight="bold" fill="#303030">354</text>
<text transform="matrix(1.0 0 0 0.925 745.22 1130.50)" font-family="Liberation Sans" font-size="23.5" font-weight="bold" fill="#303030">100.0%</text>
<text transform="matrix(1.0 0 0 0.925 875.77 1130.50)" font-family="Liberation Sans" font-size="23.5" font-weight="bold" fill="#303030">4.64 [3.42, 6.31]</text>
<text transform="matrix(1.0 0 0 0.925 78.17 1162.00)" font-family="Liberation Sans" font-size="23.5" fill="#1e1e1e" stroke="#1e1e1e" stroke-width="0.3">Total events</text>
<text transform="matrix(1.0 0 0 0.925 425.08 1162.00)" font-family="Liberation Sans" font-size="23.5" fill="#1e1e1e" stroke="#1e1e1e" stroke-width="0.3">255</text>
<text transform="matrix(1.0 0 0 0.925 612.77 1162.00)" font-family="Liberation Sans" font-size="23.5" fill="#1e1e1e" stroke="#1e1e1e" stroke-width="0.3">167</text>
<text transform="matrix(1.0 0 0 0.925 76.77 1191.00)" font-family="Liberation Sans" font-size="23.5" fill="#1e1e1e" stroke="#1e1e1e" stroke-width="0.3">Heterogeneity: Chi² = 6.25, df = 21 (P = 1.00); I² = 0%</text>
<text transform="matrix(1.0 0 0 0.925 78.17 1220.00)" font-family="Liberation Sans" font-size="23.5" fill="#1e1e1e" stroke="#1e1e1e" stroke-width="0.3">Test for overall effect: Z = 8.23 (P &lt; 0.00001)</text>
<g clip-path="url(#clipA)">
<text transform="matrix(1.0 0 0 0.925 78.17 1247.30)" font-family="Liberation Sans" font-size="23.5" fill="#1e1e1e" stroke="#1e1e1e" stroke-width="0.3">Test for subgroup differences: Chi² = 1.03, df = 1 (P = 0.31), I² = 3.0%</text>
</g>
<rect x="1362.00" y="120.00" width="2.00" height="1062.00" fill="#222"/>
<rect x="1355.94" y="162.50" width="223.76" height="2" fill="#141414"/>
<rect x="1465.53" y="162.80" width="4.60" height="4.60" fill="#1a2e86"/>
<rect x="1394.54" y="191.43" width="224.55" height="2" fill="#141414"/>
<rect x="1504.48" y="191.73" width="4.60" height="4.60" fill="#1a2e86"/>
<rect x="1373.53" y="220.36" width="194.10" height="2" fill="#141414"/>
<rect x="1468.20" y="220.66" width="4.60" height="4.60" fill="#1a2e86"/>
<rect x="1389.31" y="249.29" width="135.56" height="2" fill="#141414"/>
<rect x="1454.59" y="249.31" width="5.16" height="5.16" fill="#1a2e86"/>
<rect x="1294.62" y="278.22" width="192.63" height="2" fill="#141414"/>
<rect x="1388.87" y="278.36" width="4.92" height="4.92" fill="#1a2e86"/>
<rect x="1324.71" y="307.15" width="229.21" height="2" fill="#141414"/>
<rect x="1437.28" y="307.45" width="4.60" height="4.60" fill="#1a2e86"/>
<rect x="1366.74" y="336.08" width="135.88" height="2" fill="#141414"/>
<rect x="1432.00" y="335.85" width="5.65" height="5.65" fill="#1a2e86"/>
<rect x="1405.54" y="365.01" width="74.16" height="2" fill="#141414"/>
<rect x="1437.51" y="362.58" width="10.06" height="10.06" fill="#1a2e86"/>
<rect x="1394.23" y="393.94" width="262.27" height="2" fill="#141414"/>
<path d="M1648.50 388.74 L1656.5 394.94 L1648.50 401.14 Z" fill="#141414"/>
<rect x="1528.89" y="394.24" width="4.60" height="4.60" fill="#1a2e86"/>
<rect x="1359.58" y="422.87" width="224.98" height="2" fill="#141414"/>
<rect x="1469.75" y="423.17" width="4.60" height="4.60" fill="#1a2e86"/>
<rect x="1369.26" y="451.80" width="185.45" height="2" fill="#141414"/>
<rect x="1459.68" y="452.10" width="4.60" height="4.60" fill="#1a2e86"/>
<rect x="1400.74" y="480.73" width="223.77" height="2" fill="#141414"/>
<rect x="1510.30" y="481.03" width="4.60" height="4.60" fill="#1a2e86"/>
<rect x="1398.46" y="509.66" width="105.64" height="2" fill="#141414"/>
<rect x="1447.86" y="508.76" width="6.99" height="6.99" fill="#1a2e86"/>
<path d="M1434.37 538.80 L1454.92 526.20 L1475.47 538.80 L1454.92 551.40 Z" fill="#000"/>
<rect x="1334.78" y="711.70" width="222.60" height="2" fill="#141414"/>
<rect x="1443.79" y="712.00" width="4.60" height="4.60" fill="#1a2e86"/>
<rect x="1327.93" y="740.63" width="248.13" height="2" fill="#141414"/>
<rect x="1449.61" y="740.93" width="4.60" height="4.60" fill="#1a2e86"/>
<rect x="1339.20" y="769.56" width="245.81" height="2" fill="#141414"/>
<rect x="1459.68" y="769.86" width="4.60" height="4.60" fill="#1a2e86"/>
<rect x="1347.11" y="798.49" width="143.70" height="2" fill="#141414"/>
<rect x="1416.01" y="798.22" width="5.74" height="5.74" fill="#1a2e86"/>
<rect x="1271.26" y="827.42" width="304.36" height="2" fill="#141414"/>
<rect x="1421.39" y="827.72" width="4.60" height="4.60" fill="#1a2e86"/>
<rect x="1388.62" y="856.35" width="132.37" height="2" fill="#141414"/>
<rect x="1452.03" y="856.17" width="5.57" height="5.57" fill="#1a2e86"/>
<rect x="1361.88" y="885.28" width="123.77" height="2" fill="#141414"/>
<rect x="1420.45" y="884.64" width="6.49" height="6.49" fill="#1a2e86"/>
<rect x="1271.26" y="914.21" width="222.73" height="2" fill="#141414"/>
<rect x="1379.68" y="914.51" width="4.60" height="4.60" fill="#1a2e86"/>
<rect x="1317.65" y="943.14" width="221.51" height="2" fill="#141414"/>
<rect x="1425.81" y="943.44" width="4.60" height="4.60" fill="#1a2e86"/>
<path d="M1402.38 972.70 L1432.52 960.40 L1462.53 972.70 L1432.52 985.00 Z" fill="#000"/>
<path d="M1430.93 1117.30 L1447.78 1104.90 L1464.76 1117.30 L1447.78 1129.70 Z" fill="#000"/>
<rect x="1068.00" y="1173.70" width="589.70" height="2.00" fill="#222"/>
<rect x="1069.31" y="1168.20" width="2.00" height="13.80" fill="#222"/>
<rect x="1234.80" y="1168.20" width="2.00" height="13.80" fill="#222"/>
<rect x="1362.00" y="1168.20" width="2.00" height="13.80" fill="#222"/>
<rect x="1489.20" y="1168.20" width="2.00" height="13.80" fill="#222"/>
<rect x="1654.69" y="1168.20" width="2.00" height="13.80" fill="#222"/>
<text transform="matrix(1.0 0 0 0.925 1069.08 1204.50)" font-family="Liberation Sans" font-size="23.5" fill="#1e1e1e" stroke="#1e1e1e" stroke-width="0.3">0.005</text>
<text transform="matrix(1.0 0 0 0.925 1219.58 1204.50)" font-family="Liberation Sans" font-size="23.5" fill="#1e1e1e" stroke="#1e1e1e" stroke-width="0.3">0.1</text>
<text transform="matrix(1.0 0 0 0.925 1356.14 1204.50)" font-family="Liberation Sans" font-size="23.5" fill="#1e1e1e" stroke="#1e1e1e" stroke-width="0.3">1</text>
<text transform="matrix(1.0 0 0 0.925 1476.69 1204.50)" font-family="Liberation Sans" font-size="23.5" fill="#1e1e1e" stroke="#1e1e1e" stroke-width="0.3">10</text>
<text transform="matrix(1.0 0 0 0.925 1616.71 1204.50)" font-family="Liberation Sans" font-size="23.5" fill="#1e1e1e" stroke="#1e1e1e" stroke-width="0.3">200</text>
<text transform="matrix(1.0 0 0 0.925 1182.87 1230.80)" font-family="Liberation Sans" font-size="23.5" fill="#2a2a2a" stroke="#2a2a2a" stroke-width="0.3">Favours[control]</text>
<text transform="matrix(1.0 0 0 0.925 1372.07 1230.80)" font-family="Liberation Sans" font-size="23.5" fill="#2a2a2a" stroke="#2a2a2a" stroke-width="0.3">Favours [experimental]</text>
<text x="679.38" y="1308.60" font-family="Liberation Serif" font-size="57.4" fill="#222" stroke="#fff" stroke-width="0.9">(</text>
<text transform="matrix(1.0 0 0 1.07 704.28 1312.90)" font-family="Liberation Serif" font-size="57.4" fill="#222" stroke="#fff" stroke-width="0.9">a</text>
<text x="734.91" y="1308.60" font-family="Liberation Serif" font-size="57.4" fill="#222" stroke="#fff" stroke-width="0.9">)</text>
<text x="790.55" y="1312.90" font-family="Liberation Serif" font-size="57.4" fill="#222" stroke="#fff" stroke-width="0.9">Forest Plot</text>
<rect x="209.00" y="1365.50" width="2.40" height="884.70" fill="#111"/>
<rect x="209.00" y="2247.80" width="1452.55" height="2.40" fill="#111"/>
<rect x="200.20" y="1364.30" width="20.00" height="2.40" fill="#111"/>
<text x="177.01" y="1382.50" font-family="Liberation Sans" font-size="31.7" fill="#111" stroke="#111" stroke-width="0.3">0</text>
<rect x="200.20" y="1585.17" width="20.00" height="2.40" fill="#111"/>
<text x="150.66" y="1603.38" font-family="Liberation Sans" font-size="31.7" fill="#111" stroke="#111" stroke-width="0.3">0.5</text>
<rect x="200.20" y="1806.05" width="20.00" height="2.40" fill="#111"/>
<text x="177.32" y="1824.25" font-family="Liberation Sans" font-size="31.7" fill="#111" stroke="#111" stroke-width="0.3">1</text>
<rect x="200.20" y="2026.92" width="20.00" height="2.40" fill="#111"/>
<text x="150.66" y="2045.12" font-family="Liberation Sans" font-size="31.7" fill="#111" stroke="#111" stroke-width="0.3">1.5</text>
<rect x="200.20" y="2247.80" width="10.00" height="2.40" fill="#111"/>
<text x="177.36" y="2266.00" font-family="Liberation Sans" font-size="31.7" fill="#111" stroke="#111" stroke-width="0.3">2</text>
<rect x="209.05" y="2239.20" width="2.40" height="20.00" fill="#111"/>
<text x="170.63" y="2291.70" font-family="Liberation Sans" font-size="31.7" fill="#111" stroke="#111" stroke-width="0.3">0.005</text>
<rect x="619.00" y="2239.20" width="2.40" height="20.00" fill="#111"/>
<text x="598.32" y="2291.70" font-family="Liberation Sans" font-size="31.7" fill="#111" stroke="#111" stroke-width="0.3">0.1</text>
<rect x="934.10" y="2239.20" width="2.40" height="20.00" fill="#111"/>
<text x="926.05" y="2291.70" font-family="Liberation Sans" font-size="31.7" fill="#111" stroke="#111" stroke-width="0.3">1</text>
<rect x="1249.20" y="2239.20" width="2.40" height="20.00" fill="#111"/>
<text x="1232.18" y="2291.70" font-family="Liberation Sans" font-size="31.7" fill="#111" stroke="#111" stroke-width="0.3">10</text>
<rect x="1659.15" y="2239.20" width="2.40" height="20.00" fill="#111"/>
<text x="1633.73" y="2291.70" font-family="Liberation Sans" font-size="31.7" fill="#111" stroke="#111" stroke-width="0.3">200</text>
<text x="225.86" y="1362.00" font-family="Liberation Sans" font-size="31.7" fill="#111" stroke="#111" stroke-width="0.3">SE(log[OR])</text>
<text x="1614.62" y="2239.00" font-family="Liberation Sans" font-size="31.7" fill="#111" stroke="#111" stroke-width="0.3">OR</text>
<path d="M1147.40 1366.30 L611.45 2249.00" stroke="#20307e" stroke-width="2.4" stroke-dasharray="10 11.06" stroke-dashoffset="1.7" fill="none"/>
<path d="M1147.40 1366.30 L1657.35 2206.18" stroke="#20307e" stroke-width="2.4" stroke-dasharray="10 11.06" stroke-dashoffset="1.7" fill="none"/>
<path d="M1147.60 1366.30 L1147.60 2247.00" stroke="#20307e" stroke-width="2.4" stroke-dasharray="10 11.06" stroke-dashoffset="1.7" fill="none"/>
<circle cx="1195.78" cy="1909.42" r="11.6" fill="none" stroke="#000" stroke-width="2.2"/>
<circle cx="1292.27" cy="1911.33" r="11.6" fill="none" stroke="#000" stroke-width="2.2"/>
<circle cx="1202.39" cy="1837.32" r="11.6" fill="none" stroke="#000" stroke-width="2.2"/>
<circle cx="1169.39" cy="1695.01" r="11.6" fill="none" stroke="#000" stroke-width="2.2"/>
<circle cx="1006.28" cy="1833.75" r="11.6" fill="none" stroke="#000" stroke-width="2.2"/>
<circle cx="1125.81" cy="1922.66" r="11.6" fill="none" stroke="#000" stroke-width="2.2"/>
<circle cx="1114.03" cy="1695.79" r="11.6" fill="none" stroke="#000" stroke-width="2.2"/>
<circle cx="1133.14" cy="1545.78" r="11.6" fill="none" stroke="#000" stroke-width="2.2"/>
<circle cx="1352.73" cy="2031.14" r="11.6" fill="none" stroke="#000" stroke-width="2.2"/>
<circle cx="1206.25" cy="1912.39" r="11.6" fill="none" stroke="#000" stroke-width="2.2"/>
<circle cx="1181.30" cy="1816.30" r="11.6" fill="none" stroke="#000" stroke-width="2.2"/>
<circle cx="1306.69" cy="1909.43" r="11.6" fill="none" stroke="#000" stroke-width="2.2"/>
<circle cx="1154.97" cy="1622.28" r="11.6" fill="none" stroke="#000" stroke-width="2.2"/>
<path d="M1126.63 1906.59 L1141.93 1891.29 L1157.23 1906.59 L1141.93 1921.89 Z" fill="none" stroke="#a8302f" stroke-width="2.2"/>
<path d="M1141.05 1968.64 L1156.35 1953.34 L1171.65 1968.64 L1156.35 1983.94 Z" fill="none" stroke="#a8302f" stroke-width="2.2"/>
<path d="M1166.00 1963.01 L1181.30 1947.71 L1196.60 1963.01 L1181.30 1978.31 Z" fill="none" stroke="#a8302f" stroke-width="2.2"/>
<path d="M1059.23 1714.80 L1074.53 1699.50 L1089.83 1714.80 L1074.53 1730.10 Z" fill="none" stroke="#a8302f" stroke-width="2.2"/>
<path d="M1071.14 2105.34 L1086.44 2090.04 L1101.74 2105.34 L1086.44 2120.64 Z" fill="none" stroke="#a8302f" stroke-width="2.2"/>
<path d="M1148.24 1687.26 L1163.54 1671.96 L1178.84 1687.26 L1163.54 1702.56 Z" fill="none" stroke="#a8302f" stroke-width="2.2"/>
<path d="M1071.14 1666.36 L1086.44 1651.06 L1101.74 1666.36 L1086.44 1681.66 Z" fill="none" stroke="#a8302f" stroke-width="2.2"/>
<path d="M967.82 1906.91 L983.12 1891.61 L998.42 1906.91 L983.12 1922.21 Z" fill="none" stroke="#a8302f" stroke-width="2.2"/>
<path d="M1082.09 1903.95 L1097.39 1888.65 L1112.69 1903.95 L1097.39 1919.25 Z" fill="none" stroke="#a8302f" stroke-width="2.2"/>
<rect x="168.60" y="2333.00" width="2.00" height="73.60" fill="#111"/>
<rect x="1659.00" y="2333.00" width="2.00" height="73.60" fill="#111"/>
<rect x="168.60" y="2404.60" width="1492.40" height="2.00" fill="#111"/>
<rect x="168.60" y="2333.00" width="42.40" height="2.00" fill="#111"/>
<rect x="396.00" y="2333.00" width="1265.00" height="2.00" fill="#111"/>
<text x="225.89" y="2346.00" font-family="Liberation Sans" font-size="31.7" font-weight="bold" fill="#333">Subgroups</text>
<circle cx="197.5" cy="2367.2" r="14.6" fill="none" stroke="#000" stroke-width="2.2"/>
<path d="M422.8 2367.2 L441.2 2348.9 L459.6 2367.2 L441.2 2385.5 Z" fill="none" stroke="#a8302f" stroke-width="2.4"/>
<text x="226.74" y="2387.60" font-family="Liberation Sans" font-size="31.7" fill="#333" stroke="#333" stroke-width="0.3">Autologous</text>
<text x="471.24" y="2387.60" font-family="Liberation Sans" font-size="31.7" fill="#333" stroke="#333" stroke-width="0.3">Allogenic</text>
<text transform="matrix(1.0 0 0 1.04 716.28 2495.80)" font-family="Liberation Serif" font-size="57.4" fill="#222" stroke="#fff" stroke-width="0.9">(</text>
<text transform="matrix(0.78 0 0 1.0 741.40 2498.60)" font-family="Liberation Serif" font-size="57.4" fill="#222" stroke="#fff" stroke-width="0.9">b</text>
<text transform="matrix(1.0 0 0 1.04 776.81 2495.80)" font-family="Liberation Serif" font-size="57.4" fill="#222" stroke="#fff" stroke-width="0.9">)</text>
<text x="833.25" y="2498.60" font-family="Liberation Serif" font-size="57.4" fill="#222" stroke="#fff" stroke-width="0.9">Funnel Plot</text>
</svg>
</body></html>
